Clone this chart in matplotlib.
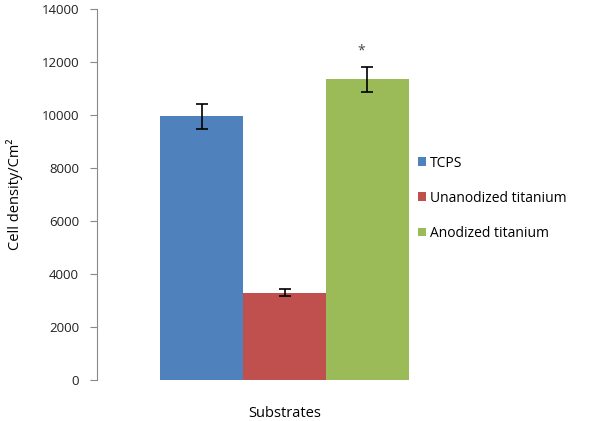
import numpy as np
import matplotlib.pyplot as plt

substrates = ["TCPS", "Unanodized titanium", "Anodized titanium"]
density = [9950, 3300, 11350]
errors = [470, 130, 480]
colors = ["#4f81bd", "#c0504d", "#9bbb59"]
yticks = [0, 2000, 4000, 6000, 8000, 10000, 12000, 14000]

plt.rcParams['font.family'] = ['Open Sans', 'DejaVu Sans']

fig = plt.figure(figsize=(6, 4.21), dpi=100)
ax = fig.add_axes([97/600, 1 - 380/421, 375/600, 371/421])

x = np.arange(len(substrates))
for i in range(len(substrates)):
    ax.bar(x[i], density[i], width=1.0, color=colors[i], label=substrates[i])
    ax.errorbar(x[i], density[i], yerr=errors[i], fmt='none', ecolor='black',
                elinewidth=1.2, capsize=4, capthick=1.2)

# significance mark
ax.text(x[2] - 0.07, density[2] + errors[2] + 600, "*", ha='center', va='center',
        fontsize=10, color='#444444')

ax.set_xlim(-1.26, 3.26)
ax.set_ylim(0, 14000)
ax.set_yticks(yticks)
ax.set_xticks([])
ax.tick_params(axis='y', direction='out', length=5, color='#888888',
               labelsize=9.5, labelcolor='#222222', pad=8)
for s in ['top', 'right', 'bottom']:
    ax.spines[s].set_visible(False)
ax.spines['left'].set_color('#888888')

ax.set_ylabel("Cell density/Cm²", fontsize=10.5, labelpad=13)
ax.set_xlabel("Substrates", fontsize=10.5, labelpad=19)

fig.legend(loc='upper left', bbox_to_anchor=(412/600, 1 - 150/421), frameon=False,
           fontsize=10, handlelength=0.6, handleheight=0.6, handletextpad=0.3,
           labelspacing=1.45, borderaxespad=0)

fig.savefig("out.png", dpi=100)
